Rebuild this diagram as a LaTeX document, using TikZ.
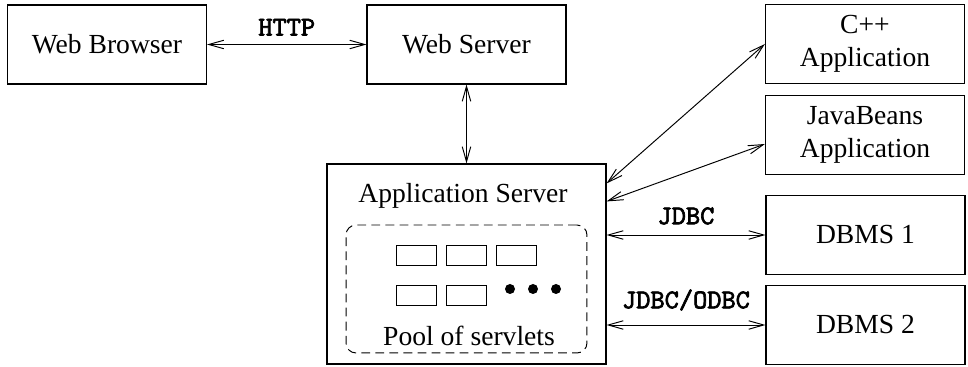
\documentclass[tikz,border=0pt]{standalone}
\usepackage{fontspec}
\setmainfont{Liberation Serif}
\newfontfamily\protofont[FakeBold=2.5]{lmmono10-regular.otf}
\usetikzlibrary{arrows.meta, positioning}

\begin{document}
\begin{tikzpicture}[
  x=0.02cm, y=-0.02cm,
  box/.style={draw, line width=0.65pt, minimum width=3.98cm, minimum height=1.58cm, inner sep=0pt, align=center, font=\fontsize{15.7}{18.8}\selectfont},
  servlet/.style={draw, line width=0.55pt, minimum width=0.81cm, minimum height=0.4cm, inner sep=0pt},
  pool/.style={draw, line width=0.55pt, dash pattern=on 5pt off 3pt, rounded corners=0.2cm},
  link/.style={{Straight Barb[length=0.3cm,width=0.17cm]}-{Straight Barb[length=0.3cm,width=0.17cm]}, line width=0.55pt},
  proto/.style={font=\protofont\fontsize{15.4}{18}\selectfont, inner sep=0pt},
  lbl/.style={font=\fontsize{15.7}{18.8}\selectfont, inner sep=0pt, anchor=base},
]
\useasboundingbox (0,0) rectangle (968,367);
% top row
\node[box] (browser) at (107,44.5) {Web Browser};
\node[box] (websrv) at (466.5,44.5) {Web Server};
% right column
\node[box] (cpp) at (865,44) {C++\\Application};
\node[box] (beans) at (865,135) {JavaBeans\\Application};
\node[box] (db1) at (865.5,235) {DBMS 1};
\node[box] (db2) at (865.5,325) {DBMS 2};
% application server and servlet pool
\node[box, minimum width=5.58cm, minimum height=4cm] (appsrv) at (466.5,264) {};
\node[lbl] (applbl) at (463,203) {Application Server};
\node[pool, minimum width=4.82cm, minimum height=2.56cm] (servpool) at (466.5,289) {};
\foreach \i/\x/\y in {1/416.5/255, 2/466.5/255, 3/516.5/255, 4/416.5/295, 5/466.5/295}
  \node[servlet] (s\i) at (\x,\y) {};
\foreach \x in {510,533,556}
  \fill (\x,289) circle (0.1cm);
\node[lbl] (poollbl) at (469,346) {Pool of servlets};
% connectors
\draw[link] (browser) -- (websrv) node[proto, midway, above=0.17cm] (http) {HTTP};
\draw[link] (websrv) -- (appsrv);
\draw[link] ([yshift=-0.4cm]appsrv.north east) -- (cpp.west);
\draw[link] ([yshift=-0.76cm]appsrv.north east) -- ([yshift=-0.18cm]beans.west);
\draw[link] (appsrv.east |- db1.west) -- (db1.west) node[proto, midway, above=0.2cm] (jdbc) {JDBC};
\draw[link] (appsrv.east |- db2.west) -- (db2.west) node[proto, midway, above=0.28cm] (odbc) {JDBC/ODBC};
\end{tikzpicture}
\end{document}
